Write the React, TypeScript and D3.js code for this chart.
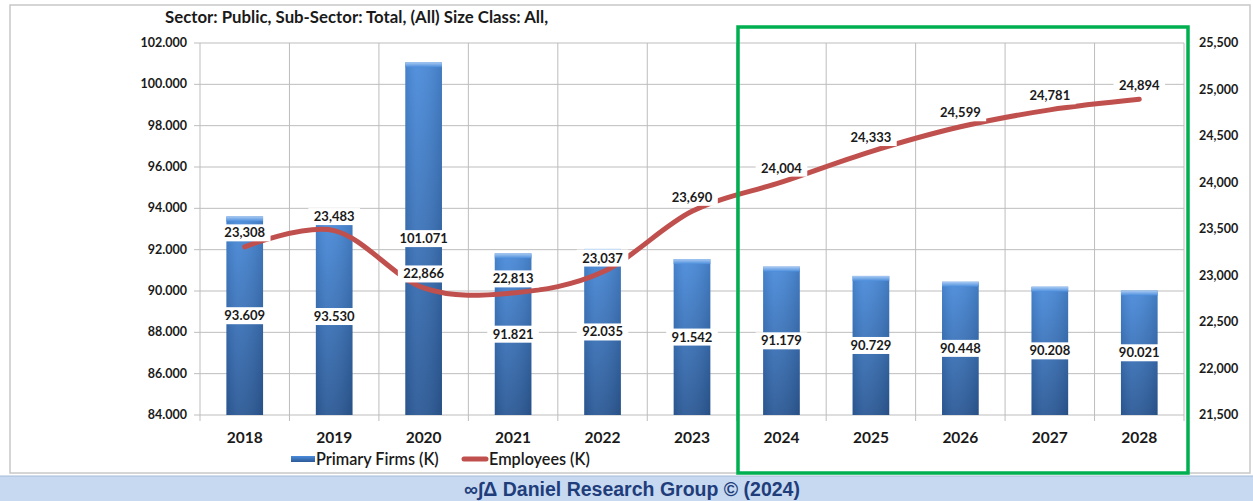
import React from 'react'
import * as d3 from 'd3'

const years = ['2018', '2019', '2020', '2021', '2022', '2023', '2024', '2025', '2026', '2027', '2028']
const firms = [93.609, 93.53, 101.071, 91.821, 92.035, 91.542, 91.179, 90.729, 90.448, 90.208, 90.021]
const employees = [23308, 23483, 22866, 22813, 23037, 23690, 24004, 24333, 24599, 24781, 24894]
const leftTicks = [84, 86, 88, 90, 92, 94, 96, 98, 100, 102]
const rightTicks = [21500, 22000, 22500, 23000, 23500, 24000, 24500, 25000, 25500]

const W = 1253
const H = 501
const plot = { left: 200, right: 1184, top: 43, bottom: 415 }
const font = 'Lato, "Open Sans", sans-serif'

const App = () => {
  const x = d3.scaleBand().domain(years).range([plot.left, plot.right]).paddingInner(0).paddingOuter(0)
  const yL = d3.scaleLinear().domain([84, 102]).range([plot.bottom, plot.top])
  const yR = d3.scaleLinear().domain([21500, 25500]).range([plot.bottom, plot.top])
  const barW = x.bandwidth() * 0.41
  const cx = (y: string) => (x(y) as number) + x.bandwidth() / 2

  const line = d3
    .line<number>()
    .x((d, i) => cx(years[i]))
    .y(d => yR(d))
    .curve(d3.curveCardinal.tension(0))

  const fmtL = d3.format('.3f')
  const fmtR = d3.format(',')

  const labelBox = (key: string, tx: number, ty: number, text: string) => {
    const w = text.length * 7.6 + 6
    return (
      <g key={key}>
        <rect x={tx - w / 2} y={ty - 8.5} width={w} height={17} fill="#fff" />
        <text x={tx} y={ty + 4.5} textAnchor="middle" fontSize={13} fontWeight={700} fill="#1a1a1a">
          {text}
        </text>
      </g>
    )
  }

  const bounds = d3.range(years.length + 1).map(i => plot.left + i * x.bandwidth())

  return (
    <svg width={W} height={H} style={{ position: 'absolute', left: 0, top: 0 }} fontFamily={font}>
      <defs>
        <linearGradient id="barGrad" x1="0" y1="0" x2="0" y2="1">
          <stop offset="0%" stopColor="#4b8cdb" />
          <stop offset="100%" stopColor="#2c5a97" />
        </linearGradient>
        <linearGradient id="barSide" x1="0" y1="0" x2="1" y2="0">
          <stop offset="0%" stopColor="#000" stopOpacity={0.08} />
          <stop offset="30%" stopColor="#fff" stopOpacity={0.05} />
          <stop offset="100%" stopColor="#000" stopOpacity={0.12} />
        </linearGradient>
        <linearGradient id="capGrad" x1="0" y1="0" x2="0" y2="1">
          <stop offset="0%" stopColor="#a9cbf3" />
          <stop offset="100%" stopColor="#4b8cdb" />
        </linearGradient>
      </defs>
      <rect x={0} y={0} width={W} height={H} fill="#fff" />
      <rect x={10} y={5} width={1240} height={468} fill="#fff" stroke="#c8c8c8" strokeWidth={1.5} />

      <text x={165} y={23} fontSize={16.8} fontWeight={700} fill="#1a1a1a">
        Sector: Public, Sub-Sector: Total, (All) Size Class: All,
      </text>

      {/* grid */}
      {leftTicks.map(t => (
        <line key={'h' + t} x1={plot.left - 6} x2={plot.right} y1={yL(t)} y2={yL(t)} stroke="#bdbdbd" strokeWidth={1} />
      ))}
      {bounds.map((b, i) => (
        <line key={'v' + i} x1={b} x2={b} y1={plot.top} y2={plot.bottom + 6} stroke="#bdbdbd" strokeWidth={1} />
      ))}

      {/* axis labels */}
      {leftTicks.map(t => (
        <text key={'l' + t} x={187} y={yL(t) + 4} textAnchor="end" fontSize={12.5} fontWeight={700} fill="#1a1a1a">
          {fmtL(t)}
        </text>
      ))}
      {rightTicks.map(t => (
        <text key={'r' + t} x={1199} y={yR(t) + 4} textAnchor="start" fontSize={12.5} fontWeight={700} fill="#1a1a1a">
          {fmtR(t)}
        </text>
      ))}

      {/* bars */}
      {years.map((y, i) => {
        const bx = cx(y) - barW / 2
        const top = yL(firms[i])
        return (
          <g key={'b' + y}>
            <rect x={bx} y={top} width={barW} height={plot.bottom - top} fill="url(#barGrad)" />
            <rect x={bx} y={top} width={barW} height={plot.bottom - top} fill="url(#barSide)" />
            <rect x={bx} y={top} width={barW} height={5} fill="url(#capGrad)" />
          </g>
        )
      })}

      {/* x labels */}
      {years.map(y => (
        <text key={'x' + y} x={cx(y)} y={443} textAnchor="middle" fontSize={15.5} fontWeight={700} fill="#1a1a1a">
          {y}
        </text>
      ))}

      {/* bar value labels */}
      {years.map((y, i) => labelBox('bl' + y, cx(y), (yL(firms[i]) + plot.bottom) / 2, fmtL(firms[i])))}

      {/* employees line */}
      <path d={line(employees) as string} fill="none" stroke="#c0504d" strokeWidth={5} strokeLinecap="round" />
      {years.map((y, i) => labelBox('el' + y, cx(y), yR(employees[i]) - 14, fmtR(employees[i])))}

      {/* legend */}
      <rect x={291} y={456} width={24} height={6} fill="url(#barGrad)" />
      <text x={316} y={465} fontSize={16.2} fontWeight={600} fill="#1a1a1a">Primary Firms (K)</text>
      <line x1={464} x2={486} y1={459} y2={459} stroke="#c0504d" strokeWidth={5} strokeLinecap="round" />
      <text x={489} y={465} fontSize={16.2} fontWeight={600} fill="#1a1a1a">Employees (K)</text>

      {/* highlight */}
      <rect x={738} y={27} width={450} height={446} fill="none" stroke="#00b050" strokeWidth={3.5} />

      {/* footer */}
      <rect x={0} y={476} width={W} height={25} fill="#c6d9f1" />
      <line x1={0} x2={W} y1={476} y2={476} stroke="#a6bcd8" strokeWidth={1} />
      <text x={632} y={496} textAnchor="middle" fontSize={19.5} fontWeight={700} fill="#1f3d7a" fontFamily='"Liberation Sans", Arial, sans-serif'>
        ∞∫Δ Daniel Research Group © (2024)
      </text>
    </svg>
  )
}

export default App
